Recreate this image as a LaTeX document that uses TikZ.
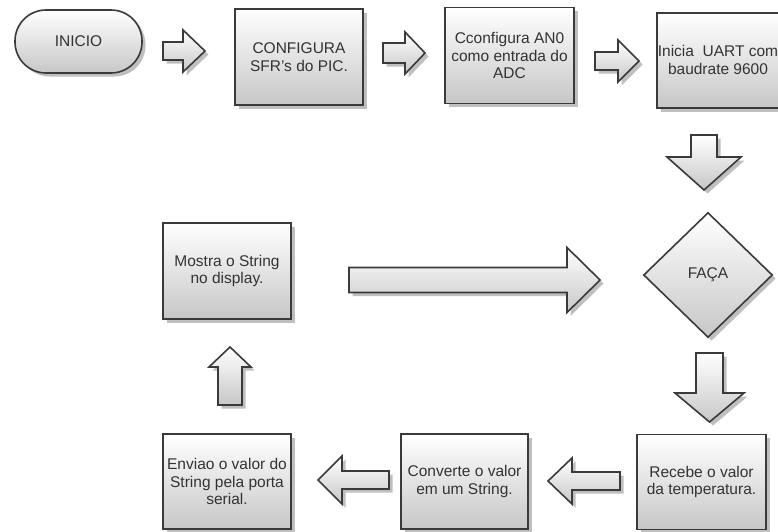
\documentclass[tikz,border=0pt]{standalone}
\usepackage{fontspec}
\setmainfont{Liberation Sans}
\usetikzlibrary{shadows,shapes.geometric}
\definecolor{edge}{HTML}{3A3A3A}
\definecolor{txt}{HTML}{333333}
\tikzset{
  shade3d/.style={top color=white, bottom color=black!22, draw=edge, line width=1.6pt,
    drop shadow={shadow xshift=3.5pt, shadow yshift=-3.5pt, fill=black!45, opacity=0.55}},
  box/.style={shade3d, rectangle, inner sep=0pt, text=txt, align=center,
    font=\fontsize{15.5}{17.5}\selectfont},
  lbl/.style={text=txt, align=center, font=\fontsize{15.5}{17.5}\selectfont, inner sep=0pt},
  barrow/.style={shade3d, line join=miter}
}
% right/left arrow: x0, yc, xb, xt, s, h
\newcommand{\hArrow}[6]{\path[barrow] (#1,#2-#5) -- (#3,#2-#5) -- (#3,#2-#6) -- (#4,#2) -- (#3,#2+#6) -- (#3,#2+#5) -- (#1,#2+#5) -- cycle;}
% up/down arrow: xc, y0, yb, yt, s, h
\newcommand{\vArrow}[6]{\path[barrow] (#1-#5,#2) -- (#1-#5,#3) -- (#1-#6,#3) -- (#1,#4) -- (#1+#6,#3) -- (#1+#5,#3) -- (#1+#5,#2) -- cycle;}
\begin{document}
\begin{tikzpicture}[x=1pt,y=-1pt]
\useasboundingbox (0,0) rectangle (778,531);
\fill[white] (0,0) rectangle (778,531);

\node[box, rounded corners=31pt, minimum width=127pt, minimum height=63pt] (inicio) at (78.5,41.5) {INICIO};
\node[box, minimum width=128pt, minimum height=96pt] (cfg) at (299,57) {CONFIGURA\\SFR's do PIC.};
\node[box, minimum width=129pt, minimum height=96pt] (adc) at (509.5,55.5) {Cconfigura AN0\\como entrada do\\ADC};
\node[box, minimum width=128pt, minimum height=95pt] (uart) at (721,60.5) {};
\node[lbl] (uartt) at (718,60) {Inicia\ \ UART com\\baudrate 9600};
\node[box, diamond, aspect=1, minimum width=129pt, minimum height=125pt] (faca) at (708,275) {FAÇA};
\node[box, minimum width=129pt, minimum height=95pt] (recebe) at (701.5,482) {Recebe o valor\\da temperatura.};
\node[box, minimum width=127pt, minimum height=95pt] (conv) at (464.5,481.5) {Converte o valor\\em um String.};
\node[box, minimum width=128pt, minimum height=95pt] (envia) at (227,481.5) {Enviao o valor do\\String pela porta\\serial.};
\node[box, minimum width=128pt, minimum height=96pt] (mostra) at (227,271) {Mostra o String\\no display.};

\hArrow{163}{51}{183}{205}{9}{21}
\hArrow{383}{53}{405}{425}{10}{21}
\hArrow{595}{61}{618}{639}{9}{21}
\vArrow{704}{135}{157}{190}{13}{37}
\vArrow{709.5}{353}{393}{422}{13.5}{34.5}
\hArrow{349}{280}{567}{600}{12.5}{32.5}
\hArrow{620}{481}{572}{548}{9}{23}
\hArrow{389}{480}{342}{318}{9}{24}
\vArrow{230}{405}{367}{347}{12}{21}
\end{tikzpicture}
\end{document}
